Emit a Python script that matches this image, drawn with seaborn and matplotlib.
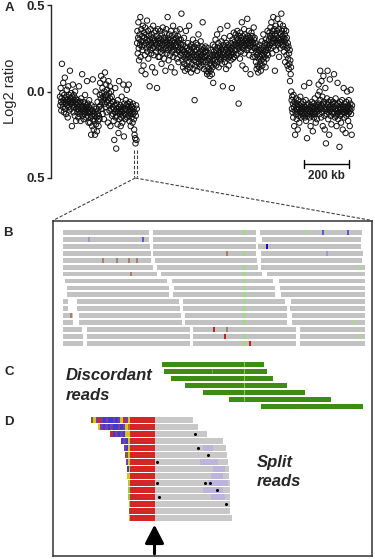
import numpy as np
import pandas as pd
import matplotlib
matplotlib.use("Agg")
import matplotlib.pyplot as plt
import seaborn as sns
from matplotlib.lines import Line2D

# ---------------- Panel A: array CGH log2 ratios (probe order) ----------------
ratio_left = [
 -.03,-.08,.02,-.06,-.11,-.04,.16,-.01,-.07,-.09,.05,-.05,-.12,-.02,-.06,.08,-.1,-.04,-.07,-.13,
 -.03,.01,-.08,-.05,-.15,-.06,.03,-.09,-.02,-.11,-.05,.12,-.07,-.04,-.1,-.01,-.06,-.2,-.03,-.08,
 .04,-.06,-.12,-.02,-.09,-.05,-.14,.0,-.07,-.04,-.17,-.06,-.1,
 -.08,-.12,-.05,-.1,-.15,-.07,.03,-.11,-.09,-.13,-.06,-.17,-.1,-.04,-.12,-.08,.1,-.14,-.09,-.11,
 -.06,-.16,-.1,-.13,-.07,-.02,-.12,-.09,-.15,-.08,-.11,.06,-.1,-.14,-.07,-.12,-.18,-.09,-.05,-.11,
 -.12,-.18,-.1,-.15,-.25,-.08,-.14,-.2,-.11,.07,-.16,-.13,-.22,-.09,-.17,-.14,-.25,-.12,.0,-.19,
 -.1,-.15,-.23,-.13,-.06,-.17,-.11,-.2,-.14,-.09,-.16,
 -.02,.05,-.08,-.04,.09,-.1,-.01,-.06,.02,-.13,-.03,.07,-.05,-.16,.0,-.07,.11,-.04,-.09,-.02,
 .04,-.12,-.06,.01,-.03,-.18,-.05,.06,-.08,-.01,-.11,.03,-.04,-.2,-.07,.0,-.1,-.03,-.14,-.06,
 -.09,-.13,-.06,-.17,-.1,-.28,-.08,-.12,.02,-.15,-.11,-.33,-.07,-.14,-.1,-.19,-.05,-.12,-.24,-.09,
 .06,-.16,-.11,-.13,-.08,-.2,-.1,-.15,-.03,-.12,-.18,-.09,-.14,.04,-.11,-.26,-.07,-.13,-.1,-.16,
 -.1,-.05,-.13,-.08,.01,-.15,-.11,-.07,-.14,-.09,.04,-.12,-.17,-.06,-.1,-.13,-.2,-.08,-.11,-.15,
 -.09,-.12,-.18,-.07,-.13,-.1,-.16,-.22,-.25,-.12,-.27,-.3,-.14,-.08,-.28,-.1]
ratio_gain = [
 .28,.35,.22,.31,.4,.25,.18,.3,.33,.27,.43,.2,.29,.36,.12,.26,.32,.24,.38,.29,
 .15,.34,.27,.31,.21,.37,.1,.28,.33,.25,.3,.41,.23,.29,.35,.19,.27,.32,.26,.03,
 .3,.24,.36,.28,.22,.33,.27,.14,.31,.25,.38,.29,.21,.34,.26,.3,.11,.28,.35,.23,
 .32,.27,.02,.3,.25,.36,.2,.29,
 .26,.31,.2,.28,.35,.23,.3,.25,.16,.33,.27,.22,.37,.29,.24,.31,.19,.26,.34,.28,
 .12,.3,.25,.36,.22,.29,.27,.43,.24,.31,.18,.26,.33,.28,.21,.3,.25,.35,.14,.27,
 .32,.23,.29,.26,.38,.2,.3,.24,.28,.11,.33,.26,.22,.31,.27,.35,.19,.29,.24,.32,
 .26,.17,.3,.23,.28,.36,.25,.21,.3,.27,.45,.24,
 .22,.18,.27,.14,.24,.2,.31,.16,.23,.12,.26,.19,.35,.21,.15,.25,.22,.13,.28,.2,
 .17,.24,.38,.21,.14,.26,.19,.23,.11,.27,.2,.16,.25,.22,.3,.13,.21,.18,.26,-.05,
 .23,.15,.2,.28,.17,.24,.21,.12,.27,.19,.22,.33,.16,.25,.2,.14,.23,.18,.29,.21,
 .15,.26,.19,.24,.4,.17,.22,.2,.13,.25,.18,.23,
 .2,.26,.17,.23,.12,.21,.1,.18,.14,.25,.11,.19,.13,.22,.09,.16,.2,.12,.24,.15,
 .18,.1,.21,.14,.27,.05,.19,.23,.16,.21,.26,.18,.3,.22,.15,.24,.2,.33,.17,.25,
 .21,.28,.14,.23,.19,.26,.22,.36,.18,.24,.2,.29,.16,.25,.21,.03,.23,.27,.19,.31,
 .22,.17,.26,.2,.24,.13,.28,.21,.25,.38,.19,.23,.27,.15,.22,.26,.2,.32,.24,.18,
 .28,.21,.25,.02,.23,.3,.19,.26,.22,.34,.2,.27,.24,
 .29,.24,.33,.27,.21,.31,.26,.35,.22,.3,.28,-.07,.25,.32,.27,.19,.34,.29,.23,.31,
 .26,.4,.28,.15,.32,.25,.3,.27,.36,.22,.29,.33,.26,.13,.31,.28,.24,.3,.42,.27,
 .32,.25,.29,.35,.21,.28,.31,.26,.1,.3,.27,.34,.24,.29,.32,.2,.28,.26,.37,.3,
 .25,.31,
 .25,.2,.28,.17,.23,.13,.21,.26,.15,.22,.11,.19,.24,.14,.27,.2,.16,.23,.12,.25,
 .18,.29,.21,.15,.24,.19,.33,.22,.17,.26,.2,.28,.23,.14,.3,.24,.19,.27,.22,.35,
 .25,.21,.29,.26,
 .3,.34,.27,.32,.37,.25,.31,.4,.28,.33,.22,.35,.29,.43,.31,.26,.36,.3,.12,.33,
 .28,.38,.24,.32,.35,.29,.42,.27,.31,.36,.3,.2,.34,.28,.39,.25,.33,.3,.45,.29,
 .35,.27,.32,.38,.26,.31,.23,.36,.29,.33,.17,.3,.27,.35,.21,.31,.25,.15,.28,.19,
 .26,.13,.22,.16,.24,.06,.18,.1,.14]
ratio_right = [
 .0,-.05,-.1,-.03,-.12,-.07,-.15,-.02,-.09,-.2,-.06,-.11,-.25,-.08,-.13,-.04,-.1,-.16,-.07,-.12,
 -.22,-.09,-.05,-.14,-.1,-.18,-.08,-.12,-.03,-.11,-.15,-.07,-.1,-.13,-.09,
 -.1,-.14,-.06,-.12,-.08,.03,-.11,-.15,-.09,-.13,-.05,-.17,-.1,-.12,-.27,-.08,-.14,-.11,-.07,-.13,
 -.1,.05,-.15,-.09,-.12,-.2,-.08,-.11,-.14,-.06,-.1,-.13,-.23,-.09,-.12,-.07,-.15,-.1,-.04,-.13,
 -.11,-.18,-.08,-.12,-.09,-.16,-.1,
 -.08,-.02,-.11,.04,-.07,-.13,.0,-.09,.12,-.05,-.1,-.15,.06,-.08,-.12,-.03,-.2,-.07,.09,-.1,
 -.06,-.14,-.22,-.09,.02,-.11,-.3,-.07,-.13,-.04,-.1,.12,-.08,-.16,-.06,-.12,-.25,-.09,.07,-.11,
 -.14,-.05,-.1,-.19,-.08,-.12,-.07,
 -.1,-.06,-.13,-.09,.1,-.12,-.07,-.15,-.1,-.04,-.14,-.11,-.2,-.08,-.13,.05,-.1,-.16,-.07,-.12,
 -.09,-.32,-.11,-.06,-.14,-.1,-.18,-.08,-.13,-.05,-.11,-.22,-.09,-.12,.02,-.1,-.15,-.07,-.12,-.09,
 -.24,-.11,-.06,-.14,-.1,.0,-.13,-.08,-.17,-.1,-.05,-.12,-.09,-.2,-.11,-.07,.01,-.13,-.1,-.25,-.08]
probe_spacing_kb = 1.43
scalebar_kb = 200
ytick_values = [0.5, 0.0, -0.5]
ytick_labels = ["0.5", "0.0", "0.5"]

# ---------------- Panel B: normal pileup (row, read start/end in bp) ----------------
b_starts = [[10,100,207],[10,100,209],[10,100,205],[10,100,208],[10,102,208],[10,104,208],
            [10,108,214],[12,119,226],[14,121,227],[14,120,228],[10,24,130,238],[10,24,130,237],
            [10,26,132,239],[10,26,132,239],[10,34,140,247],[10,34,140,247],[10,34,140,247]]
b_ends = [[96,203,309],[96,203,308],[97,203,308],[98,203,310],[98,204,309],[100,205,312],
          [104,209,312],[114,220,312],[116,222,312],[116,222,312],[15,126,232,312],[15,127,234,312],
          [20,128,234,312],[20,129,234,312],[29,137,243,312],[30,137,243,312],[30,137,243,312]]
snp_pos = 191
b_snp_rows = [0, 3, 5, 6, 7, 8, 9, 10, 11, 12, 13, 15, 16]
b_mm_rows = [0, 0, 0, 1, 1, 2, 3, 4, 4, 4, 4, 6, 14, 14, 15, 16, 12, 3, 5, 15, 13]
b_mm_pos = [270, 295, 253, 90, 36, 214, 274, 50, 64, 76, 84, 78, 161, 174, 172, 197, 18, 174, 307, 307, 301]
b_mm_col = ["blue", "blue", "ltgreen", "blue", "ltblue", "dblue", "ltblue", "brown", "brown", "brown",
            "brown", "brown", "red", "brown", "red", "red", "brown", "brown", "ltgreen", "ltgreen", "ltgreen"]

# ---------------- Panel C: discordant read pairs ----------------
c_rows = [19, 20, 21, 22, 23, 24, 25]
c_starts = [109, 111, 118, 132, 150, 176, 208]
c_ends = [211, 214, 220, 234, 252, 278, 310]

# ---------------- Panel D: split reads ----------------
d_rows = list(range(27, 42))
d_starts = [38, 45, 57, 68, 71, 72, 73, 74, 74, 75, 75, 75, 76, 76, 76]
d_clip_bases = ["nyprpbpbbpbpyrpy", "ypbpbpbbpbpyo", "rbpbpbyy", "bpby", "pby", "ny", "py",
                "by", "y", "gy", "g", "g", "gy", "ny", "g"]
d_red_start = 77
breakpoint_bp = 102
d_ends = [140, 145, 154, 170, 173, 174, 175, 176, 176, 177, 177, 177, 177, 177, 179]
d_dot_rows = [29, 31, 32, 33, 36, 36, 36, 37, 38, 39]
d_dot_pos = [142, 145, 155, 104, 152, 157, 104, 164, 106, 173]
d_lav_rows = [31, 33, 34, 35, 36, 37, 38]
d_lav_start = [150, 147, 160, 158, 155, 150, 158]
d_lav_end = [160, 165, 172, 170, 175, 170, 172]

# ---------------- style ----------------
sns.set_style("ticks")
plt.rcParams["font.family"] = ["Liberation Sans", "DejaVu Sans"]

W, H = 375, 559
fig = plt.figure(figsize=(W / 100, H / 100), dpi=100)

def fx(px):
    return px / W

def fy(py):
    return 1 - py / H

# ---- Panel A ----
ratios = ratio_left + ratio_gain + ratio_right
n = len(ratios)
dfa = pd.DataFrame({"probe": np.arange(n), "ratio": ratios})
ax_a = fig.add_axes([fx(51), fy(178), fx(362 - 51), (178 - 5) / H])
sns.scatterplot(data=dfa, x="probe", y="ratio", ax=ax_a, s=15, marker="o",
                facecolor="none", edgecolor="#111111", linewidth=0.7, legend=False,
                clip_on=False, zorder=3)
pxper = 292 / (n - 1)
ax_a.set_xlim(-(60 - 51) / pxper, (n - 1) + (362 - 352) / pxper)
ax_a.set_ylim(-0.5, 0.5)
sns.despine(ax=ax_a, bottom=True)
ax_a.spines["left"].set_linewidth(1.0)
ax_a.set_xticks([])
ax_a.set_yticks(ytick_values)
ax_a.set_yticklabels(ytick_labels, fontsize=9.5, fontweight="bold")
ax_a.tick_params(axis="y", length=3, width=1.0, pad=1.5)
ax_a.set_xlabel("")
ax_a.set_ylabel("")
fig.text(fx(10), fy(91), "Log2 ratio", rotation=90, ha="center", va="center", fontsize=10.5)

# scale bar
sb_x0 = (304 - 60) / pxper
sb_len = scalebar_kb / probe_spacing_kb
sb_y = 0.5 - (164 - 5) / 173
ax_a.plot([sb_x0, sb_x0 + sb_len], [sb_y, sb_y], color="black", lw=1.0, clip_on=False)
for xx in (sb_x0, sb_x0 + sb_len):
    ax_a.plot([xx, xx], [sb_y - 0.022, sb_y + 0.022], color="black", lw=1.0, clip_on=False)
ax_a.text(sb_x0 + sb_len / 2, 0.5 - (176 - 5) / 173, f"{scalebar_kb} kb", ha="center",
          va="center", fontsize=8.5, fontweight="bold", clip_on=False)

# panel letters
for lab, (px, py) in {"A": (9, 8), "B": (8, 233), "C": (9, 372), "D": (8.5, 422)}.items():
    fig.text(fx(px), fy(py), lab, ha="center", va="center", fontsize=9.5, fontweight="bold")

# dashed zoom connectors
dash_kw = dict(color="#404040", lw=0.8, linestyle=(0, (3, 1.6)), transform=fig.transFigure)
for xx in (134, 136.6):
    fig.add_artist(Line2D([fx(xx), fx(xx)], [fy(150), fy(177)], **dash_kw))
fig.add_artist(Line2D([fx(135.3), fx(53)], [fy(178), fy(220.5)], **dash_kw))
fig.add_artist(Line2D([fx(135.3), fx(372)], [fy(178), fy(220.5)], **dash_kw))

# ---- Panels B-D (one boxed axes, x in bp, y in pileup rows) ----
ax_r = fig.add_axes([fx(53), fy(556), fx(372 - 53), (556 - 221) / H])
ax_r.set_xlim(0, 319)
ax_r.set_ylim(46.5, -1.62)
ax_r.set_xticks([])
ax_r.set_yticks([])
for sp in ax_r.spines.values():
    sp.set_visible(True)
    sp.set_linewidth(1.1)
    sp.set_color("#333333")

cols = {"blue": "#5a5ad8", "dblue": "#1010c8", "ltblue": "#9a9ad8", "brown": "#a88070",
        "red": "#c82020", "ltgreen": "#a6dc8a"}
gray = "#c2c2c2"
hb = 0.7

# B reads
for r, (ss, ee) in enumerate(zip(b_starts, b_ends)):
    ax_r.barh([r] * len(ss), np.array(ee) - np.array(ss), left=ss, height=hb, color=gray, lw=0)
ax_r.barh(b_snp_rows, 3.0, left=snp_pos - 1.5, height=hb, color="#a2d88a", lw=0)
for r, p, c in zip(b_mm_rows, b_mm_pos, b_mm_col):
    ax_r.barh(r, 1.2, left=p - 0.6, height=hb, color=cols[c], lw=0)

# C discordant reads
green = "#3f8c14"
ax_r.barh(c_rows, np.array(c_ends) - np.array(c_starts), left=c_starts, height=hb, color=green, lw=0)
snp_rows_c = [r for r, s, e in zip(c_rows, c_starts, c_ends) if s < snp_pos < e]
ax_r.barh(snp_rows_c, 1.0, left=snp_pos - 0.5, height=hb, color="#86d040", lw=0)
ax_r.barh([20], 0.8, left=159, height=hb, color="#6aaa40", lw=0)
ax_r.barh([25], 1.0, left=244, height=hb, color="#8a6a20", lw=0)
ax_r.text(13, 21.2, "Discordant", fontsize=12, fontweight="bold", fontstyle="italic", va="baseline")
ax_r.text(13, 24.1, "reads", fontsize=12, fontweight="bold", fontstyle="italic", va="baseline")

# D split reads
clip_cols = {"p": "#7a3ca8", "b": "#3c3cd0", "y": "#d8c420", "o": "#cc6a1e", "r": "#d02828",
             "g": "#96d040", "n": "#8a5a28"}
hd = 0.82
red = "#d42626"
ax_r.barh(d_rows, np.array(d_ends) - breakpoint_bp, left=breakpoint_bp, height=hd, color="#c8c8c8", lw=0)
ax_r.barh(d_rows, breakpoint_bp - d_red_start, left=d_red_start, height=hd, color=red, lw=0)
for r, st, bases in zip(d_rows, d_starts, d_clip_bases):
    w = (d_red_start - st) / len(bases)
    ax_r.barh([r] * len(bases), w, left=[st + k * w for k in range(len(bases))], height=hd,
              color=[clip_cols[b] for b in bases], lw=0)
ax_r.barh(d_lav_rows, np.array(d_lav_end) - np.array(d_lav_start), left=d_lav_start,
          height=hd, color="#bcb4da", lw=0)
ax_r.scatter(d_dot_pos, d_dot_rows, s=1.5, color="black", zorder=4)
ax_r.text(204, 33.7, "Split", fontsize=12, fontweight="bold", fontstyle="italic", va="baseline")
ax_r.text(204, 36.4, "reads", fontsize=12, fontweight="bold", fontstyle="italic", va="baseline")

# breakpoint arrow
ax_r.annotate("", xy=(breakpoint_bp - 0.5, 42.0), xytext=(breakpoint_bp - 0.5, 46.2),
              arrowprops=dict(arrowstyle="-|>,head_length=0.7,head_width=0.36",
                              mutation_scale=16, lw=2.2, color="black",
                              shrinkA=0, shrinkB=0))

fig.savefig("out.png", dpi=100)
